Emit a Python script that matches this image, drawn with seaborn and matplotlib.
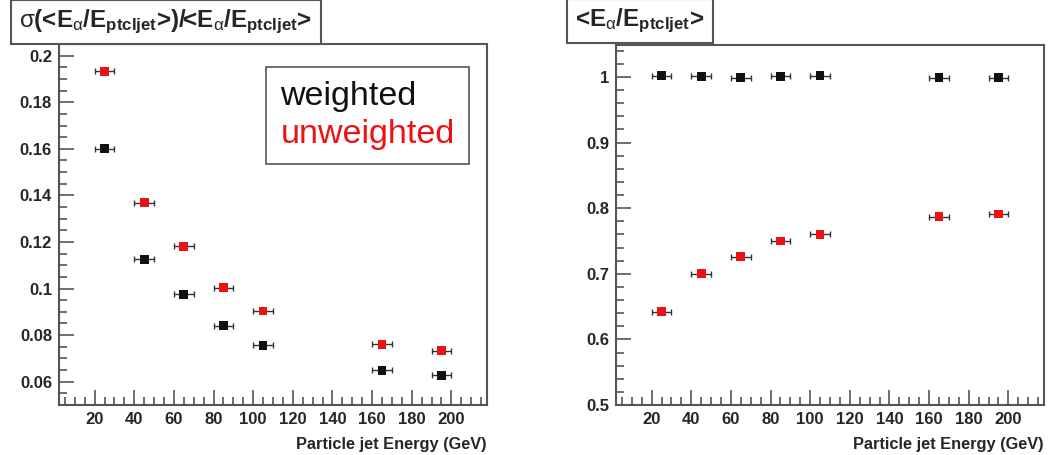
import pandas as pd
import seaborn as sns
import matplotlib.pyplot as plt
from matplotlib.ticker import MultipleLocator, FuncFormatter

# jet energy bin centres (GeV) and half widths
energy = [25, 45, 65, 85, 105, 165, 195]
half_width = 5

# sigma(<E_a/E_ptcljet>) / <E_a/E_ptcljet>
reso_weighted = [0.1600, 0.1126, 0.0975, 0.0840, 0.0756, 0.0649, 0.0627]
reso_unweighted = [0.1932, 0.1369, 0.1182, 0.1004, 0.0904, 0.0761, 0.0733]

# <E_a/E_ptcljet>
resp_weighted = [1.002, 1.001, 0.999, 1.001, 1.002, 0.999, 0.999]
resp_unweighted = [0.642, 0.700, 0.726, 0.750, 0.760, 0.787, 0.791]

labels = ['weighted', 'unweighted']
colors = {'weighted': '#111111', 'unweighted': '#ee1111'}

sns.set_style('white')
plt.rcParams['font.family'] = ['Liberation Sans', 'DejaVu Sans']
plt.rcParams['mathtext.default'] = 'regular'
plt.rcParams['mathtext.fontset'] = 'custom'
plt.rcParams['mathtext.rm'] = 'Liberation Sans'

EDGE = '#555555'


def make_frame(w, u):
    return pd.DataFrame({
        'energy': energy * 2,
        'value': w + u,
        'type': ['weighted'] * len(w) + ['unweighted'] * len(u),
    })


def style_axis(ax, ylim, ymaj, ymin):
    ax.set_xlim(2, 218)
    ax.set_ylim(*ylim)
    ax.xaxis.set_major_locator(MultipleLocator(20))
    ax.xaxis.set_minor_locator(MultipleLocator(5))
    ax.yaxis.set_major_locator(MultipleLocator(ymaj))
    ax.yaxis.set_minor_locator(MultipleLocator(ymin))
    ax.yaxis.set_major_formatter(FuncFormatter(lambda v, p: '%g' % round(v, 4)))
    ax.tick_params(which='both', direction='in', color=EDGE, width=1.2,
                   left=True, bottom=True, top=False, right=False)
    ax.tick_params(which='major', length=11, labelsize=12, pad=5)
    ax.tick_params(which='minor', length=6)
    for lab in ax.get_xticklabels() + ax.get_yticklabels():
        lab.set_fontweight('bold')
    for s in ax.spines.values():
        s.set_color(EDGE)
        s.set_linewidth(1.5)
    ax.set_xlabel('Particle jet Energy (GeV)', loc='right', fontsize=11.8,
                  fontweight='bold', labelpad=7)
    ax.set_ylabel('')


def draw(ax, df):
    for t in labels:
        sub = df[df['type'] == t]
        ax.errorbar(sub['energy'], sub['value'], xerr=half_width, fmt='none',
                    ecolor='#333333', elinewidth=1.0, capsize=2, capthick=1.0,
                    zorder=2)
    sns.scatterplot(data=df, x='energy', y='value', hue='type', hue_order=labels,
                    palette=colors, marker='s', s=40, linewidth=0, ax=ax,
                    zorder=3, legend=False)


fig = plt.figure(figsize=(10.55, 4.55), dpi=100)
ax1 = fig.add_axes([59 / 1055, 50 / 455, 428 / 1055, 361 / 455])
ax2 = fig.add_axes([616 / 1055, 50 / 455, 428 / 1055, 360 / 455])

draw(ax1, make_frame(reso_weighted, reso_unweighted))
style_axis(ax1, (0.05, 0.205), 0.02, 0.005)

draw(ax2, make_frame(resp_weighted, resp_unweighted))
style_axis(ax2, (0.5, 1.0486), 0.1, 0.02)

# legend box with coloured text only
handles = [plt.Line2D([], [], color=colors[t]) for t in labels]
leg = ax1.legend(handles, labels, loc='upper left', bbox_to_anchor=(0.484, 0.936),
                 borderaxespad=0, handlelength=0, handletextpad=0,
                 fontsize=24.5, labelspacing=0.2, borderpad=0.42,
                 fancybox=False, edgecolor=EDGE, framealpha=1,
                 labelcolor=[colors[t] for t in labels])
leg.get_frame().set_linewidth(1.2)
for h in leg.legend_handles:
    h.set_visible(False)

box = dict(boxstyle='square,pad=0.33', fc='white', ec=EDGE, lw=1.5)
fig.text(166 / 1055, 1 - 22 / 455,
         '$\\mathrm{σ}$(<E$_{\\mathrm{α}}$/E$_{ptcljet}$>)/<E$_{\\mathrm{α}}$/E$_{ptcljet}$>',
         ha='center', va='center', fontsize=17.4, fontweight='bold', bbox=box)
fig.text(640 / 1055, 1 - 21 / 455, '<E$_{\\mathrm{α}}$/E$_{ptcljet}$>',
         ha='center', va='center', fontsize=17.4, fontweight='bold', bbox=box)

fig.savefig('out.png', dpi=100, facecolor='white')
